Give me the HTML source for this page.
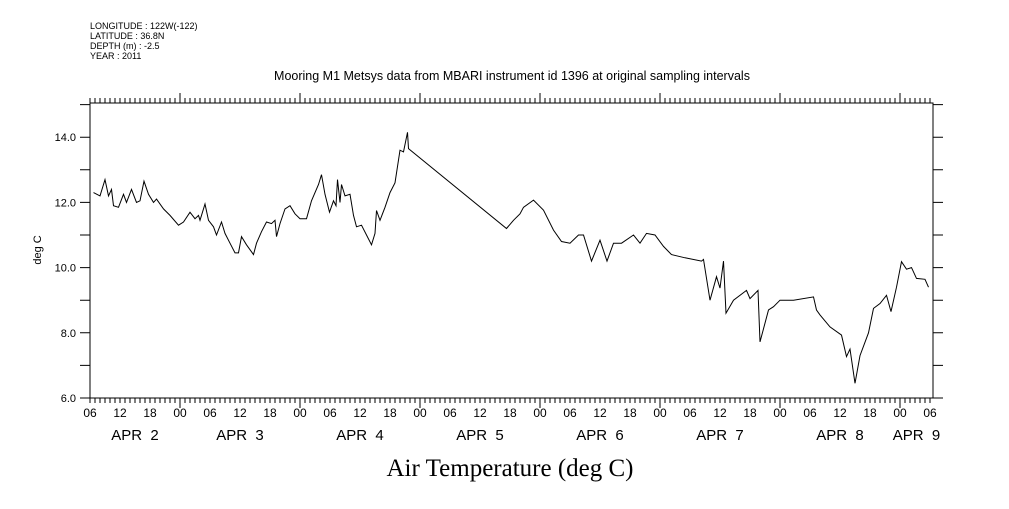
<!DOCTYPE html>
<html><head><meta charset="utf-8"><style>
body{margin:0;background:#fff;}
svg text{font-family:"Liberation Sans",sans-serif;fill:#000;}
</style></head><body>
<svg width="1009" height="504" viewBox="0 0 1009 504">
<g font-size="9">
<text x="90" y="29">LONGITUDE : 122W(-122)</text>
<text x="90" y="39">LATITUDE : 36.8N</text>
<text x="90" y="49">DEPTH (m) : -2.5</text>
<text x="90" y="59">YEAR : 2011</text>
</g>
<text x="512" y="80" font-size="12.5" text-anchor="middle">Mooring M1 Metsys data from MBARI instrument id 1396 at original sampling intervals</text>
<text x="510" y="476" font-size="25" text-anchor="middle" style="font-family:'Liberation Serif',serif">Air Temperature (deg C)</text>
<text transform="translate(41,250) rotate(-90)" font-size="11" text-anchor="middle">deg C</text>
<g id="axes"></g>
<path id="series" fill="none" stroke="#000" stroke-width="1"/>
</svg>
<script>
const hours=[0.7,2,3,3.7,4.3,4.7,5.7,6.7,7.3,8.3,9.3,10,10.8,11.7,12.7,13.3,14.7,16,17.7,18.7,20,21,21.7,22,23,23.7,24.7,25.3,26.3,27,28,29,29.7,30.3,31.3,32.7,33.3,34.3,35.3,36.3,37,37.3,38,39,40,41,42,43.3,44.3,45.7,46.3,47,47.9,48.7,49.2,49.5,50,50.3,51,52,52.7,53.3,54.3,55.3,56.3,57,57.3,58,59,60,61,62,62.7,63.5,63.7,83.3,84.7,86,86.7,88.7,90.7,92.7,94.3,96,97.7,98.7,100.3,102,103.4,104.7,106.3,108.7,110,111.3,113,114.7,116.3,119,122.3,122.7,124,125.3,126,126.7,127.2,128.7,131.3,132,133.6,134,135.7,136.7,138,140.7,144.7,145.3,146,148,150.3,151.3,152,153,154,155.7,156.7,158,159.3,160.2,161.3,162.3,163.3,164.3,165.3,167,167.7];
const temps=[12.3,12.2,12.7,12.2,12.4,11.9,11.85,12.25,12.0,12.4,12.0,12.05,12.65,12.25,12.0,12.1,11.8,11.6,11.3,11.4,11.7,11.5,11.6,11.45,11.95,11.45,11.25,11.0,11.4,11.05,10.75,10.45,10.45,10.95,10.7,10.4,10.75,11.1,11.4,11.35,11.45,10.95,11.35,11.8,11.9,11.65,11.5,11.5,12.05,12.55,12.85,12.25,11.7,12.05,11.9,12.7,12.0,12.55,12.2,12.25,11.6,11.25,11.3,11.0,10.7,11.05,11.75,11.45,11.85,12.3,12.6,13.6,13.55,14.15,13.65,11.2,11.45,11.65,11.85,12.07,11.76,11.15,10.8,10.75,11.0,11.0,10.2,10.84,10.2,10.75,10.75,11.0,10.75,11.05,11.0,10.65,10.4,10.3,10.2,10.25,9.0,9.72,9.37,10.2,8.6,9.0,9.3,9.05,9.3,7.72,8.7,8.8,9.0,9.0,9.1,8.7,8.55,8.18,7.93,7.27,7.5,6.45,7.3,8.0,8.75,8.9,9.15,8.65,9.4,10.18,9.95,10.0,9.67,9.64,9.4];
const yTicks=[6,8,10,12,14];
const hourLabels=["06","12","18","00"];
const dayLabels=["APR  2","APR  3","APR  4","APR  5","APR  6","APR  7","APR  8","APR  9"];
const X0=90,X1=933,Y0=398,Y1=103;
function xs(h){return X0+h*5;}
function ys(v){return Y0-(v-6)*32.6;}
const NS="http://www.w3.org/2000/svg";
const g=document.getElementById('axes');
function mk(t,a){const e=document.createElementNS(NS,t);for(const k in a)e.setAttribute(k,a[k]);g.appendChild(e);return e;}
let p="M"+X0+" "+Y1+"H"+X1+"V"+Y0+"H"+X0+"Z";
for(let h=0;xs(h)<=X1;h++){const x=xs(h);const major=((h+6)%24===0);const len=major?10:5;
p+="M"+x+" "+Y0+"v"+len+"M"+x+" "+Y1+"v"+(-len);}
for(let v=6;v<=15;v++){const y=ys(v);p+="M"+X0+" "+y+"h-10M"+X1+" "+y+"h10";}
const ax=mk('path',{d:p,stroke:'#000',fill:'none','stroke-width':1});


yTicks.forEach(v=>{const t=mk('text',{x:76,y:ys(v)+4,'font-size':11,'text-anchor':'end'});t.textContent=v.toFixed(1);

});
for(let h=0,i=0;xs(h)<=X1+2;h+=6,i++){const t=mk('text',{x:xs(h),y:417,'font-size':12,'text-anchor':'middle'});t.textContent=hourLabels[i%4];

}
dayLabels.forEach((d,i)=>{let s=Math.max(X0,xs(-6+24*i)),e=Math.min(X1,xs(18+24*i));
const t=mk('text',{x:(s+e)/2,y:440,'font-size':15,'text-anchor':'middle','xml:space':'preserve'});t.textContent=d;t.style.whiteSpace='pre';

});
document.getElementById('series').setAttribute('d',hours.map((h,i)=>(i?"L":"M")+xs(h).toFixed(1)+" "+ys(temps[i]).toFixed(1)).join(""));
</script>
</body></html>
